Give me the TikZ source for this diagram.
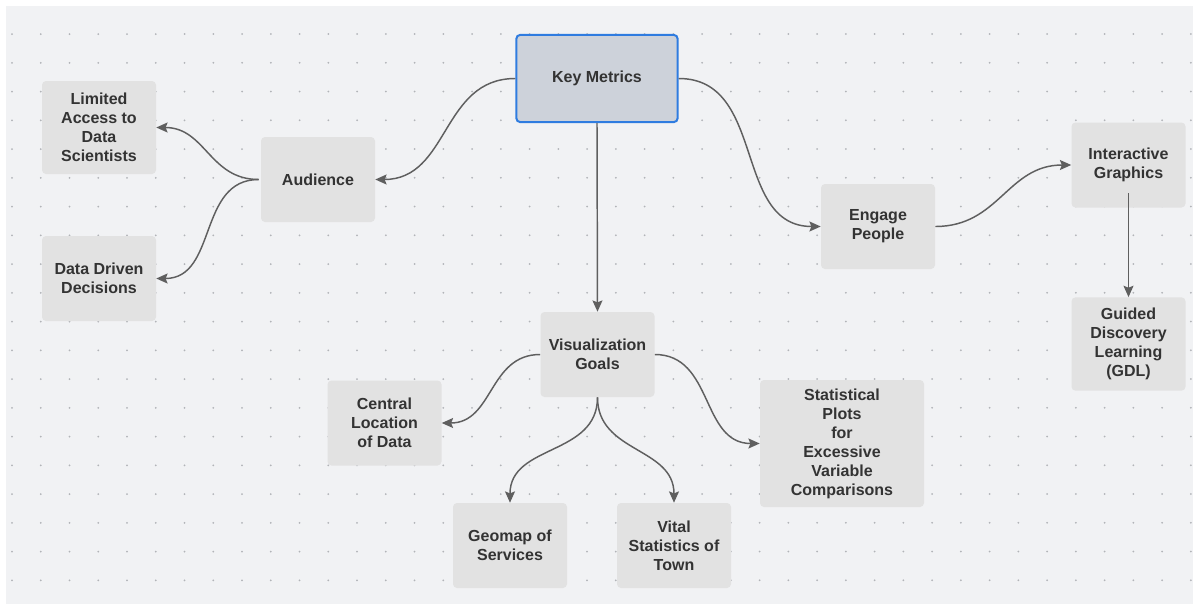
\documentclass[tikz,border=0pt]{standalone}
\usepackage{fontspec}
\setmainfont{Liberation Sans}
\usetikzlibrary{arrows.meta}
\definecolor{lcpanel}{HTML}{F1F2F4}
\definecolor{lcbox}{HTML}{E2E2E2}
\definecolor{lckey}{HTML}{CDD2DA}
\definecolor{lcblue}{HTML}{2F7CE0}
\definecolor{lcink}{HTML}{333333}
\definecolor{lcline}{HTML}{5F5F5F}
\definecolor{lcdot}{HTML}{B2B4B8}
\tikzset{
  ideaBox/.style={fill=lcbox, rounded corners=3pt, align=center, inner sep=2pt, text=lcink,
    font=\bfseries\fontsize{12}{14.25}\selectfont, minimum width=85.5pt, minimum height=63.75pt},
  keyBox/.style={ideaBox, fill=lckey, draw=lcblue, line width=1.5pt, minimum width=121pt, minimum height=65.5pt},
  linkArrow/.style={-{Stealth[length=8.5pt,width=7.5pt,inset=1.5pt]}, line width=1.1pt, draw=lcline}
}

\begin{document}
\begin{tikzpicture}[x=0.75pt,y=-0.75pt]
  \useasboundingbox (0,0) rectangle (1193,607);
  \fill[white] (0,0) rectangle (1193,607);
  \fill[lcpanel] (6,6) rectangle (1193,604);
  % dotted grid
  \foreach \i in {0,...,41}
    \foreach \j in {0,...,19}
      \fill[lcdot] (12+28.75*\i,34+28.75*\j) circle[radius=0.75pt];

  \node[keyBox] (km) at (597,78.5) {Key Metrics};
  \node[ideaBox] (aud) at (318,179.5) {Audience};
  \node[ideaBox, minimum height=69.75pt] (lim) at (99,127.5) {Limited\\Access to\\Data\\Scientists};
  \node[ideaBox] (ddd) at (99,278.5) {Data Driven\\Decisions};
  \node[ideaBox] (eng) at (878,226.5) {Engage\\People};
  \node[ideaBox] (igr) at (1128.5,165) {Interactive\\Graphics};
  \node[ideaBox, minimum height=70pt] (gdl) at (1128.5,344) {Guided\\Discovery\\Learning\\(GDL)};
  \node[ideaBox] (vis) at (597.5,354.5) {Visualization\\Goals};
  \node[ideaBox] (cen) at (384.5,423) {Central\\Location\\of Data};
  \node[ideaBox, minimum width=123pt, minimum height=95.25pt] (stp) at (842,443.5) {Statistical\\Plots\\for\\Excessive\\Variable\\Comparisons};
  \node[ideaBox] (geo) at (510,545.5) {Geomap of\\Services};
  \node[ideaBox] (vit) at (674,545.5) {Vital\\Statistics of\\Town};

  \draw[linkArrow] (km.west) to[out=180,in=0,looseness=1.1] (aud.east);
  \draw[linkArrow] ([xshift=-1.5pt]aud.west) to[out=180,in=0,looseness=1.1] (lim.east);
  \draw[linkArrow] ([xshift=-1.5pt]aud.west) to[out=180,in=0,looseness=1.1] (ddd.east);
  \draw[linkArrow] (km.south) -- (vis.north);
  \draw[linkArrow] (km.east) to[out=0,in=180,looseness=1.1] (eng.west);
  \draw[linkArrow] (eng.east) to[out=0,in=180,looseness=1.1] (igr.west);
  \draw[linkArrow] ([yshift=11pt]igr.south) -- (gdl.north);
  \draw[linkArrow] (vis.west) to[out=180,in=0,looseness=1.1] (cen.east);
  \draw[linkArrow] (vis.east) to[out=0,in=180,looseness=1.1] (stp.west);
  \draw[linkArrow] (vis.south) to[out=-90,in=90,looseness=1.1] (geo.north);
  \draw[linkArrow] (vis.south) to[out=-90,in=90,looseness=1.1] (vit.north);
\end{tikzpicture}
\end{document}
